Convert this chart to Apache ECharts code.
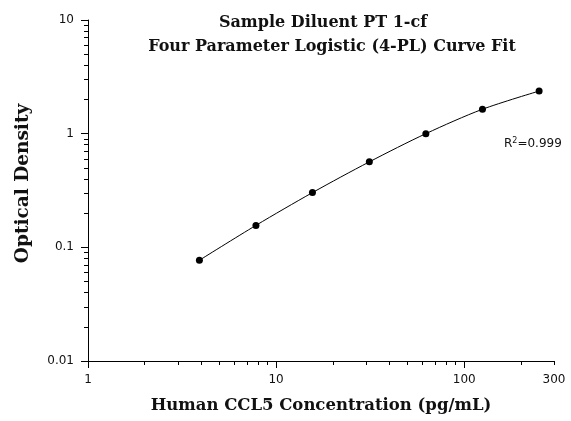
<!DOCTYPE html>
<html>
<head>
<meta charset="utf-8">
<script src="https://cdn.jsdelivr.net/npm/echarts@6/dist/echarts.min.js"></script>
<style>
html,body{margin:0;padding:0;background:#fff;}
#c{width:571px;height:421px;}
</style>
</head>
<body>
<div id="c"></div>
<script>
// Data
var concentration = [3.91, 7.81, 15.6, 31.3, 62.5, 125, 250];
var opticalDensity = [0.077, 0.156, 0.303, 0.565, 1.0, 1.64, 2.37];
var xMajorTicks = [1, 10, 100];
var xLabels = [1, 10, 100, 300];
var xMinorTicks = [2, 3, 4, 5, 6, 7, 8, 9, 20, 30, 40, 50, 60, 70, 80, 90, 200, 300];
var yMajorTicks = [0.01, 0.1, 1, 10];
var yMinorTicks = [0.02, 0.03, 0.04, 0.05, 0.06, 0.07, 0.08, 0.09,
                   0.2, 0.3, 0.4, 0.5, 0.6, 0.7, 0.8, 0.9,
                   2, 3, 4, 5, 6, 7, 8, 9];
var titleLine1 = 'Sample Diluent PT 1-cf';
var titleLine2 = 'Four Parameter Logistic (4-PL) Curve Fit';
var xName = 'Human CCL5 Concentration (pg/mL)';
var yName = 'Optical Density';
var r2Text = '0.999';

var points = concentration.map(function (c, i) { return [c, opticalDensity[i]]; });

var chart = echarts.init(document.getElementById('c'), null, {renderer: 'canvas'});
var serif = '"DejaVu Serif", "Liberation Serif", serif';
var sans = '"DejaVu Sans", "Liberation Sans", Arial, sans-serif';
var labelFmt = function (v) { return String(+v.toPrecision(6)); };
var titleStyle = {fontFamily: serif, fontWeight: 'bold', fontSize: 16, lineHeight: 20, color: '#111'};

chart.setOption({
  backgroundColor: '#ffffff',
  animation: false,
  title: [{
    text: titleLine1, left: 323, top: 13, padding: 0, textAlign: 'center', textStyle: titleStyle
  }, {
    text: titleLine2, left: 332, top: 37, padding: 0, textAlign: 'center', textStyle: titleStyle
  }],
  grid: {left: 88, right: 17, top: 20, bottom: 60},
  xAxis: [{
    type: 'log', logBase: 10, min: 1, max: 300,
    name: xName, nameLocation: 'middle', nameGap: 36,
    nameTextStyle: {fontFamily: serif, fontWeight: 'bold', fontSize: 16.5, color: '#111'},
    axisLine: {show: true, lineStyle: {color: '#000', width: 1}},
    axisTick: {show: true, customValues: xMajorTicks, length: 7, lineStyle: {color: '#000'}},
    axisLabel: {customValues: xLabels, margin: 13, fontFamily: sans, fontSize: 12, color: '#111', formatter: labelFmt},
    splitLine: {show: false}, minorTick: {show: false}
  }, {
    type: 'log', logBase: 10, min: 1, max: 300, position: 'bottom',
    axisLine: {show: false},
    axisTick: {show: true, customValues: xMinorTicks, length: 4, lineStyle: {color: '#000'}},
    axisLabel: {show: false}, splitLine: {show: false}
  }],
  yAxis: [{
    type: 'log', logBase: 10, min: 0.01, max: 10,
    name: yName, nameLocation: 'middle', nameGap: 55,
    nameTextStyle: {fontFamily: serif, fontWeight: 'bold', fontSize: 18.5, color: '#111', padding: [0, 0, 0, 14]},
    axisLine: {show: true, lineStyle: {color: '#000', width: 1}},
    axisTick: {show: true, customValues: yMajorTicks, length: 7, lineStyle: {color: '#000'}},
    axisLabel: {customValues: yMajorTicks, margin: 14, fontFamily: sans, fontSize: 12, color: '#111', formatter: labelFmt},
    splitLine: {show: false}, minorTick: {show: false}
  }, {
    type: 'log', logBase: 10, min: 0.01, max: 10, position: 'left',
    axisLine: {show: false},
    axisTick: {show: true, customValues: yMinorTicks, length: 4, lineStyle: {color: '#000'}},
    axisLabel: {show: false}, splitLine: {show: false}
  }],
  graphic: [{
    type: 'text', left: 504, top: 137,
    style: {
      text: 'R{sup|2}=' + r2Text,
      font: '12px ' + sans,
      fill: '#111',
      rich: {sup: {fontSize: 8, verticalAlign: 'top', padding: [0, 0, 6, 0], fontFamily: sans, fill: '#111'}}
    }
  }],
  series: [{
    type: 'line',
    xAxisIndex: 0, yAxisIndex: 0,
    data: points,
    smooth: 0.3,
    symbol: 'circle', symbolSize: 7,
    itemStyle: {color: '#000'},
    lineStyle: {color: '#000', width: 1}
  }]
});
</script>
</body>
</html>
